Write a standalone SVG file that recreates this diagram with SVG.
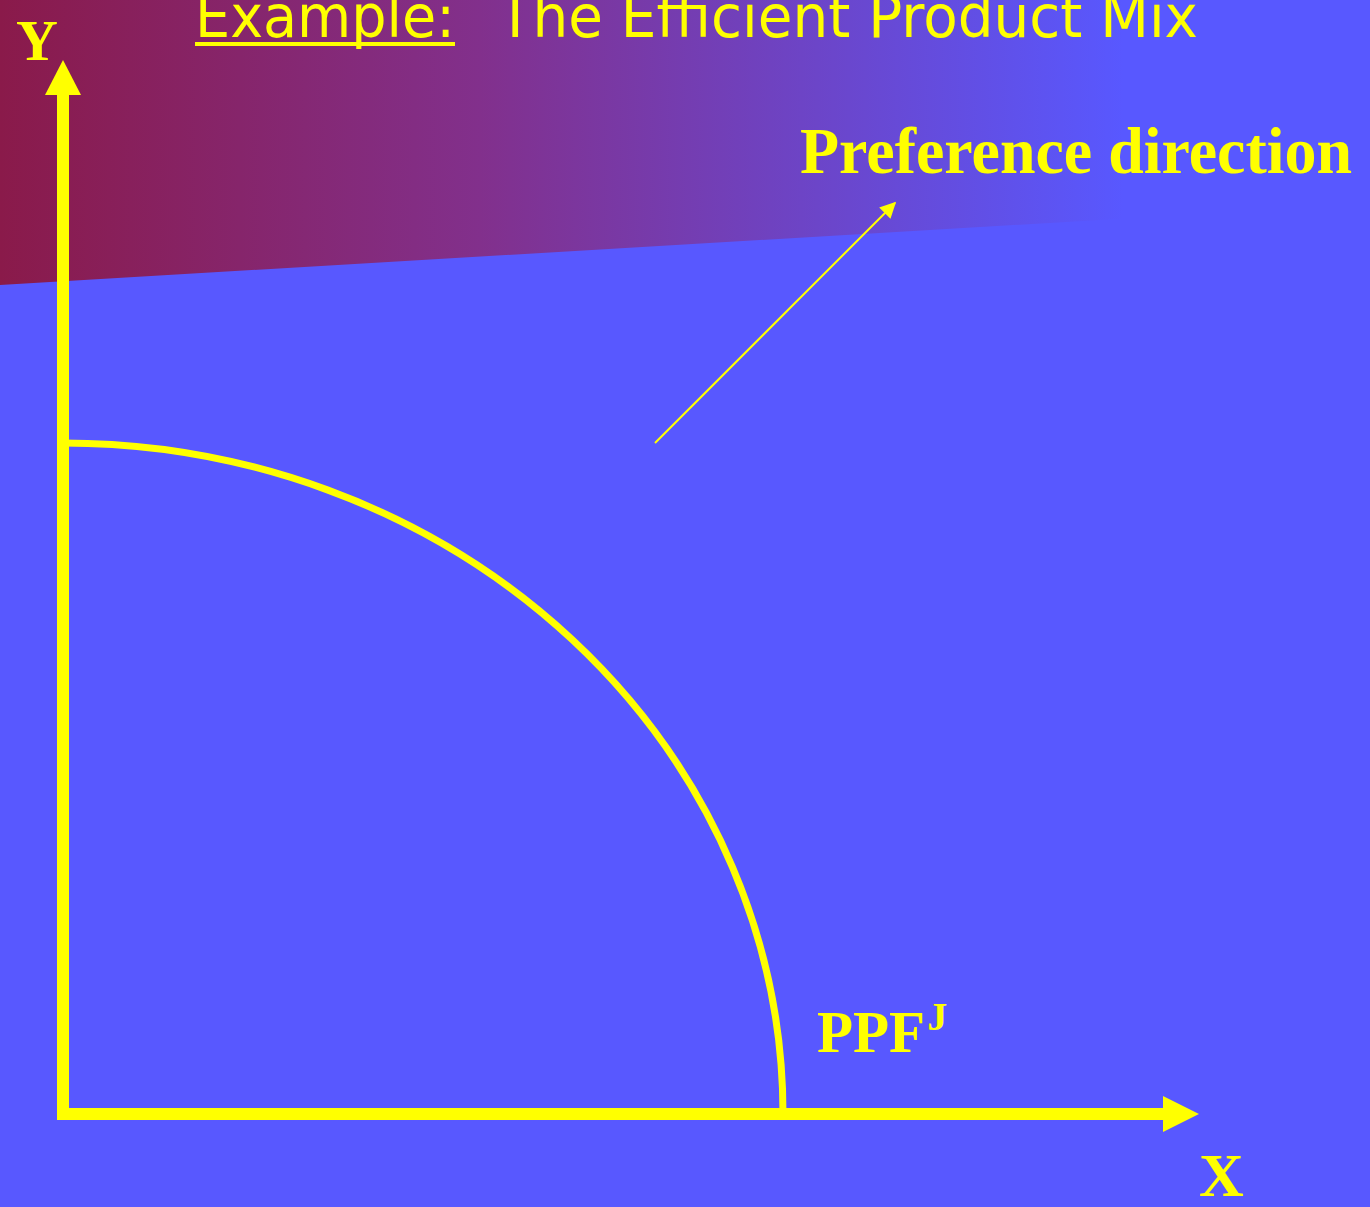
<svg xmlns="http://www.w3.org/2000/svg" width="1370" height="1207" viewBox="0 0 1370 1207">
<defs>
<linearGradient id="sky" x1="0" y1="0" x2="1370" y2="0" gradientUnits="userSpaceOnUse">
<stop offset="0" stop-color="#8A1A4A"/>
<stop offset="0.35" stop-color="#82308C"/>
<stop offset="0.82" stop-color="#5858FF"/>
</linearGradient>
<marker id="small" viewBox="0 0 10 10" refX="9" refY="5" markerWidth="18" markerHeight="16" markerUnits="userSpaceOnUse" orient="auto">
<path d="M0,0 L10,5 L0,10 Z" fill="#FFFF00"/>
</marker>
</defs>
<style>
.ax{stroke:#FFFF00;stroke-width:12;fill:none}
.hd{fill:#FFFF00}
.serif{font-family:"Liberation Serif","Times New Roman",serif;font-weight:bold;fill:#FFFF00}
.sans{font-family:"DejaVu Sans","Liberation Sans",sans-serif;fill:#FFFF00}
</style>
<rect width="1370" height="1207" fill="#5858FF"/>
<polygon points="0,0 1370,0 1370,204 0,285" fill="url(#sky)"/>
<g id="title">
<text class="sans" x="195" y="37" font-size="58" textLength="260" lengthAdjust="spacingAndGlyphs">Example:</text>
<rect x="195" y="42" width="260" height="4" fill="#FFFF00"/>
<text class="sans" x="498" y="37" font-size="58" textLength="700" lengthAdjust="spacingAndGlyphs">The Efficient Product Mix</text>
</g>
<g id="y-axis">
<line class="ax" x1="63" y1="1120" x2="63" y2="92"/>
<polygon class="hd" points="45,95 63,60 81,95"/>
<text class="serif" x="16" y="60" font-size="58">Y</text>
</g>
<g id="x-axis">
<line class="ax" x1="57" y1="1114" x2="1166" y2="1114"/>
<polygon class="hd" points="1163,1096 1199,1114 1163,1132"/>
<text class="serif" x="1199" y="1196" font-size="62">X</text>
</g>
<g id="ppf">
<path d="M63,443 A720,671 0 0 1 783,1114" fill="none" stroke="#FFFF00" stroke-width="7"/>
<text class="serif" x="817" y="1052" font-size="59">PPF<tspan font-size="40" dx="2" dy="-22">J</tspan></text>
</g>
<g id="connectors">
<line x1="655" y1="443" x2="895" y2="203" stroke="#FFFF00" stroke-width="2" marker-end="url(#small)"/>
</g>
<g id="preference">
<text class="serif" x="800" y="173" font-size="66" textLength="552" lengthAdjust="spacingAndGlyphs">Preference direction</text>
</g>
</svg>
